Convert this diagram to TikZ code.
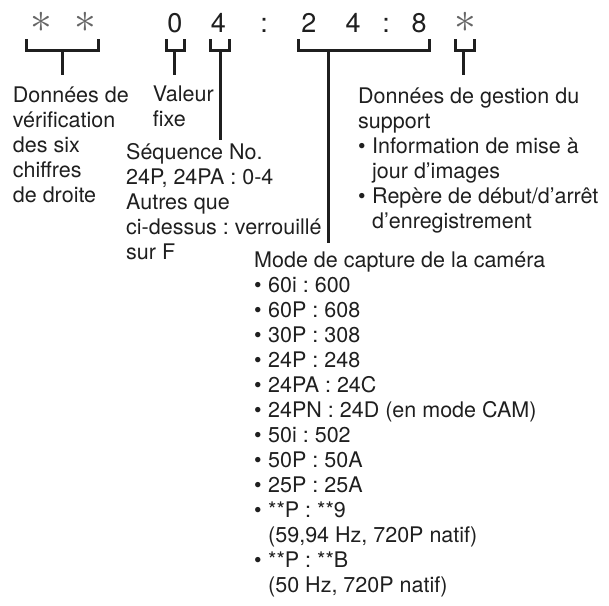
\documentclass[tikz,border=0pt]{standalone}
\usepackage{fontspec}
\setmainfont{TeX Gyre Heros}
\usetikzlibrary{positioning}
\frenchspacing

\newcommand{\itembul}{\makebox[14pt][l]{\textbullet}}
\newcommand{\contd}{\hspace*{14pt}}

\begin{document}
\begin{tikzpicture}[
    x=1pt, y=-1pt,
    every node/.style={inner sep=0pt, text=black!88},
    lbl/.style={anchor=north west, align=left, font=\fontsize{21.5}{25}\selectfont},
    digit/.style={anchor=base, font=\fontsize{27}{27}\selectfont},
    star/.style={font=\Huge, scale=1.75, text=black!60},
    brk/.style={line width=3pt, black!88, line cap=butt, line join=miter}
]
\useasboundingbox (0,0) rectangle (609,605);

% Top row: code characters
\node[star] (a1) at (41.7,22.8) {$\ast$};
\node[star] (a2) at (85.7,22.8) {$\ast$};
\node[digit] (d0) at (175,32) {0};
\node[digit] (d4) at (218.3,32) {4};
\node[digit] (c1) at (264,32) {:};
\node[digit] (d2) at (309,32) {2};
\node[digit] (d4b) at (353,32) {4};
\node[digit] (c2) at (386,32) {:};
\node[digit] (d8) at (419,32) {8};
\node[star] (a3) at (465,22.8) {$\ast$};

% Brackets and stems
\foreach \l/\r/\m/\e [count=\i] in {26.7/98.3/62.3/75, 166/184.3/174.3/75,
    210/229/220/140, 298.3/429/328/243, 455.7/474/463/75} {
    \draw[brk] (\l,39) |- (\r,50.5) -- (\r,39);
    \coordinate (b\i) at (\m,50.5);
    \coordinate (e\i) at (\m,\e);
    \draw[brk] (b\i) -- (e\i);
}

% Labels
\node[lbl] (chk) at (12.7,87) {Données de\\vérification\\des six\\chiffres\\de droite};
\node[lbl] (val) at (152.7,86) {Valeur\\fixe};
\node[lbl] (seq) at (126,143) {Séquence No.\\24P, 24PA : 0-4\\Autres que\\ci-dessus : verrouillé\\sur F};
\node[lbl] (sup) at (358,88) {Données de gestion du\\support\\
    \itembul Information de mise à\\\contd jour d’images\\
    \itembul Repère de début/d’arrêt\\\contd d’enregistrement};
\node[lbl] (mod) at (254,252) {Mode de capture de la caméra\\
    \itembul 60i : 600\\\itembul 60P : 608\\\itembul 30P : 308\\\itembul 24P : 248\\
    \itembul 24PA : 24C\\\itembul 24PN : 24D (en mode CAM)\\\itembul 50i : 502\\
    \itembul 50P : 50A\\\itembul 25P : 25A\\\itembul **P : **9\\
    \contd(59,94 Hz, 720P natif)\\\itembul **P : **B\\\contd(50 Hz, 720P natif)};

\end{tikzpicture}
\end{document}
